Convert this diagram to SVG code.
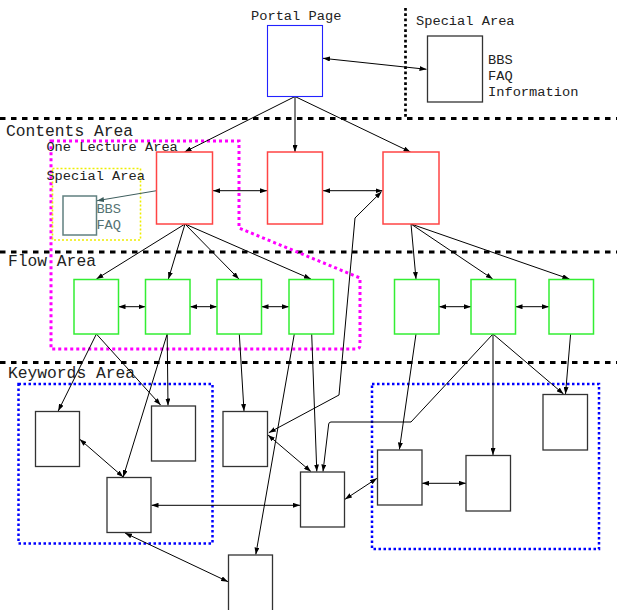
<svg xmlns="http://www.w3.org/2000/svg" width="617" height="610" viewBox="0 0 617 610">
<style>
text{font-family:"Liberation Mono","DejaVu Sans Mono",monospace;fill:#222}
.lbl{font-size:13.7px}
.area{font-size:16.3px}
.slate{fill:#557373}
.box{fill:#fff;stroke:#333;stroke-width:1.3}
.blue{fill:#fff;stroke:#22f;stroke-width:1.1}
.red{fill:#fff;stroke:#f44;stroke-width:1.5}
.green{fill:#fff;stroke:#3e3;stroke-width:1.5}
.sl{fill:#fff;stroke:#608080;stroke-width:1.5}
.sep{stroke:#000;stroke-width:3;stroke-dasharray:5.5,5.5;fill:none}
.c{fill:none;stroke:#000;stroke-width:1}
.c2{fill:none;stroke:#000;stroke-width:1;marker-end:url(#ah);marker-start:url(#ah)}
.c1{fill:none;stroke:#000;stroke-width:1;marker-end:url(#ah)}
</style>
<defs>
<marker id="ah" markerUnits="userSpaceOnUse" markerWidth="7" markerHeight="5" refX="7" refY="2.5" orient="auto-start-reverse"><path d="M0,0 L7,2.5 L0,5 z" fill="#000"/></marker>
<marker id="ahs" markerUnits="userSpaceOnUse" markerWidth="7" markerHeight="5" refX="7" refY="2.5" orient="auto"><path d="M0,0 L7,2.5 L0,5 z" fill="#3d5d5d"/></marker>
</defs>
<g id="regions">
<line class="sep" x1="0" y1="118.5" x2="617" y2="118.5"/>
<line class="sep" x1="0" y1="252" x2="617" y2="252"/>
<line class="sep" x1="0" y1="362.5" x2="617" y2="362.5"/>
<line x1="405.5" y1="8" x2="405.5" y2="117" stroke="#000" stroke-width="2.7" stroke-dasharray="2.7,2.6"/>
<path d="M51,141 H239 V228 L360,278 V345 Q360,349 356,349 H51 Z" fill="none" stroke="#f0f" stroke-width="3" stroke-dasharray="3,3"/>
<rect x="52.5" y="168.5" width="88" height="71.5" fill="none" stroke="#ee0" stroke-width="1.6" stroke-dasharray="2,2"/>
<rect x="18.5" y="384" width="194" height="159.5" fill="none" stroke="#00f" stroke-width="2.5" stroke-dasharray="2.5,2.5"/>
<rect x="372" y="384" width="227" height="165" fill="none" stroke="#00f" stroke-width="2.5" stroke-dasharray="2.5,2.5"/>
<text class="lbl" x="251" y="20">Portal Page</text>
<text class="lbl" x="416" y="25">Special Area</text>
<text class="area" x="6" y="136">Contents Area</text>
<text class="lbl" x="46.4" y="151">One Lecture Area</text>
<text class="lbl" x="46.4" y="180">Special Area</text>
<text class="area" x="8" y="266">Flow Area</text>
<text class="area" x="8" y="378">Keywords Area</text>
</g>
<g id="connectors">
<line class="c2" x1="323" y1="58.3" x2="426.5" y2="69.3"/>
<line class="c1" x1="295" y1="96.5" x2="184.5" y2="152"/>
<line class="c1" x1="295" y1="96.5" x2="295" y2="152"/>
<line class="c1" x1="295" y1="96.5" x2="410.5" y2="152"/>
<line x1="156.5" y1="190.7" x2="97" y2="200.7" stroke="#3d5d5d" stroke-width="1" marker-end="url(#ahs)"/>
<line class="c2" x1="213" y1="190.7" x2="267" y2="190.7"/>
<line class="c2" x1="323" y1="190.7" x2="382.5" y2="190.7"/>
<line class="c1" x1="185" y1="224" x2="96.4" y2="279"/>
<line class="c1" x1="185" y1="224" x2="168.4" y2="279"/>
<line class="c1" x1="185" y1="224" x2="238.9" y2="279"/>
<line class="c1" x1="185" y1="224" x2="310.9" y2="279"/>
<line class="c1" x1="411" y1="224" x2="416" y2="279"/>
<line class="c1" x1="411" y1="224" x2="492.7" y2="279"/>
<line class="c1" x1="411" y1="224" x2="569.4" y2="279"/>
<line class="c2" x1="118.5" y1="306.7" x2="145.5" y2="306.7"/>
<line class="c2" x1="190" y1="306.7" x2="217" y2="306.7"/>
<line class="c2" x1="261.5" y1="306.7" x2="289" y2="306.7"/>
<line class="c2" x1="439" y1="306.7" x2="471" y2="306.7"/>
<line class="c2" x1="515.5" y1="306.7" x2="549" y2="306.7"/>
<line class="c1" x1="96.4" y1="334" x2="58.2" y2="411"/>
<line class="c1" x1="96.4" y1="334" x2="160.6" y2="405"/>
<line class="c1" x1="167.2" y1="334" x2="168" y2="405.5"/>
<line class="c1" x1="167.2" y1="334" x2="123.2" y2="477"/>
<line class="c1" x1="239.3" y1="334" x2="244" y2="411"/>
<line class="c1" x1="294.3" y1="334" x2="255.8" y2="554.5"/>
<line class="c1" x1="311.7" y1="334" x2="316.8" y2="471.5"/>
<line class="c1" x1="416" y1="334" x2="399.4" y2="449.5"/>
<line class="c1" x1="493" y1="334" x2="493" y2="455"/>
<line class="c1" x1="493" y1="334" x2="563.5" y2="394"/>
<path class="c1" d="M493,334 L411,422 H331 Q329,422 328.7,424 L323,471.5"/>
<line class="c1" x1="570.6" y1="334" x2="565.5" y2="394"/>
<path class="c2" d="M381.5,191.7 L355,218 L339,395 L268.8,432.7"/>
<line class="c2" x1="79.8" y1="439.3" x2="123.2" y2="477"/>
<line class="c2" x1="125" y1="533" x2="228" y2="581.7"/>
<line class="c2" x1="151.5" y1="505.3" x2="300" y2="505.3"/>
<line class="c2" x1="268" y1="435" x2="310.9" y2="471.5"/>
<line class="c2" x1="345" y1="499.3" x2="377" y2="478.3"/>
<line class="c2" x1="422" y1="483.3" x2="466" y2="483.3"/>
</g>
<g id="portal"><rect class="blue" x="267.5" y="25.5" width="55" height="71"/></g>
<g id="special-top"><rect class="box" x="427.5" y="36" width="55" height="66"/>
<text class="lbl" x="488" y="64">BBS</text><text class="lbl" x="488" y="80">FAQ</text><text class="lbl" x="488" y="96">Information</text></g>
<g id="red1"><rect class="red" x="156.5" y="152" width="56" height="72"/></g>
<g id="red2"><rect class="red" x="267.5" y="152" width="55" height="72"/></g>
<g id="red3"><rect class="red" x="383" y="152" width="56" height="72"/></g>
<g id="special-inner"><rect class="sl" x="63" y="196" width="33.5" height="39"/>
<text class="lbl slate" x="96.4" y="213">BBS</text><text class="lbl slate" x="96.4" y="229">FAQ</text></g>
<g id="g1"><rect class="green" x="74" y="279.5" width="44.5" height="54.5"/></g>
<g id="g2"><rect class="green" x="145.5" y="279.5" width="44.5" height="54.5"/></g>
<g id="g3"><rect class="green" x="217" y="279.5" width="44.5" height="54.5"/></g>
<g id="g4"><rect class="green" x="289" y="279.5" width="44.5" height="54.5"/></g>
<g id="g5"><rect class="green" x="394.5" y="279.5" width="44.5" height="54.5"/></g>
<g id="g6"><rect class="green" x="471" y="279.5" width="44.5" height="54.5"/></g>
<g id="g7"><rect class="green" x="549" y="279.5" width="44.5" height="54.5"/></g>
<g id="ka"><rect class="box" x="35.5" y="411.5" width="44" height="55"/></g>
<g id="kb"><rect class="box" x="151.5" y="406" width="44" height="55"/></g>
<g id="kc"><rect class="box" x="107" y="477.5" width="44" height="55"/></g>
<g id="kd"><rect class="box" x="223" y="411.5" width="44.5" height="55"/></g>
<g id="ke"><rect class="box" x="300.5" y="472" width="44" height="55"/></g>
<g id="kf"><rect class="box" x="377.5" y="450" width="44.5" height="55"/></g>
<g id="kg"><rect class="box" x="466" y="455.5" width="44.5" height="55.5"/></g>
<g id="kh"><rect class="box" x="543" y="394.5" width="44.5" height="55.5"/></g>
<g id="ki"><rect class="box" x="228.5" y="555" width="44" height="60"/></g>
</svg>
